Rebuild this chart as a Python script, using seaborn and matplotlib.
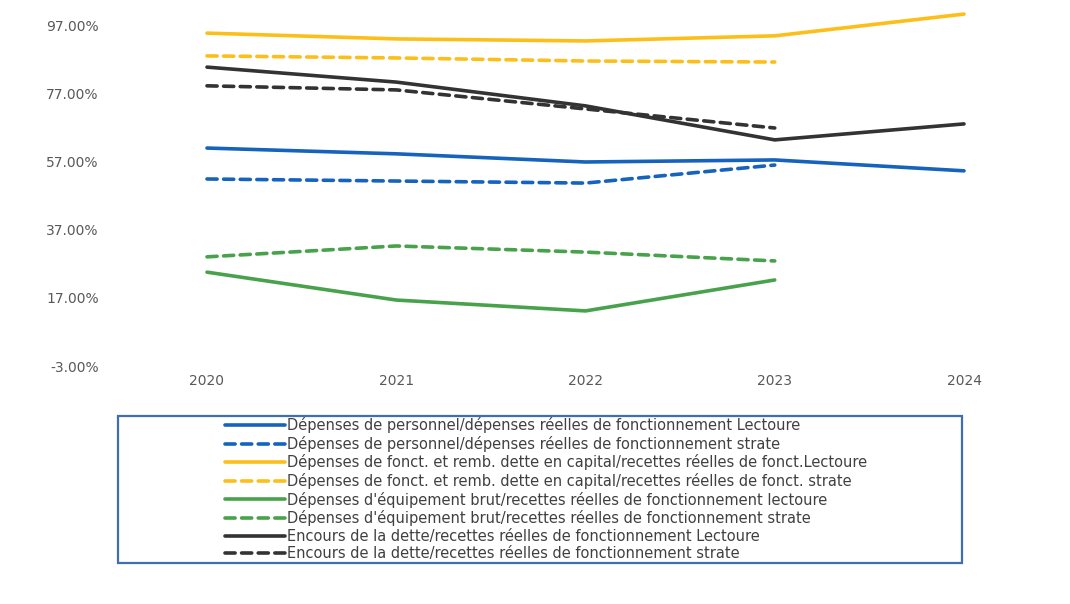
import matplotlib
matplotlib.use("Agg")
import matplotlib.pyplot as plt
import seaborn as sns
import pandas as pd
from matplotlib.patches import Rectangle
from matplotlib.ticker import FuncFormatter

years = ["2020", "2021", "2022", "2023", "2024"]
pers_lectoure = [61.1, 59.4, 57.0, 57.6, 54.4]
pers_strate = [52.0, 51.4, 50.8, 56.1, None]
fonct_lectoure = [94.9, 93.2, 92.6, 94.1, 100.5]
fonct_strate = [88.2, 87.6, 86.7, 86.4, None]
equip_lectoure = [24.6, 16.4, 13.2, 22.3, None]
equip_strate = [29.1, 32.3, 30.5, 27.9, None]
dette_lectoure = [84.9, 80.5, 73.5, 63.5, 68.2]
dette_strate = [79.4, 78.2, 72.6, 67.0, None]

labels = [
    "Dépenses de personnel/dépenses réelles de fonctionnement Lectoure",
    "Dépenses de personnel/dépenses réelles de fonctionnement strate",
    "Dépenses de fonct. et remb. dette en capital/recettes réelles de fonct.Lectoure",
    "Dépenses de fonct. et remb. dette en capital/recettes réelles de fonct. strate",
    "Dépenses d'équipement brut/recettes réelles de fonctionnement lectoure",
    "Dépenses d'équipement brut/recettes réelles de fonctionnement strate",
    "Encours de la dette/recettes réelles de fonctionnement Lectoure",
    "Encours de la dette/recettes réelles de fonctionnement strate",
]
series = [pers_lectoure, pers_strate, fonct_lectoure, fonct_strate,
          equip_lectoure, equip_strate, dette_lectoure, dette_strate]
colors = ["#1663bd", "#1663bd", "#fcbf1a", "#fcbf1a",
          "#48a24c", "#48a24c", "#333333", "#333333"]
dashed = [False, True, False, True, False, True, False, True]
yticks = [-3, 17, 37, 57, 77, 97]

sns.set_style("white")
plt.rcParams['font.family'] = ['DejaVu Sans']

fig = plt.figure(figsize=(10.7, 6.04), dpi=100)
ax = fig.add_axes([207/1070, 1 - 366/604, (964-207)/1070, 356/604])

for vals, lab, col, d in zip(series, labels, colors, dashed):
    df = pd.DataFrame({"x": list(range(len(years))), "y": vals}).dropna()
    ls = (0, (2.8, 1.8)) if d else "-"
    sns.lineplot(data=df, x="x", y="y", ax=ax, color=col, linewidth=2.6,
                 linestyle=ls, label=lab, clip_on=False, legend=False,
                 solid_capstyle="round", dash_capstyle="round")

ax.set_xlim(0, 4)
ax.set_ylim(-3, 101.7)
ax.set_yticks(yticks)
ax.yaxis.set_major_formatter(FuncFormatter(lambda v, p: f"{v:.2f}%"))
ax.set_xticks(range(len(years)))
ax.set_xticklabels(years)
ax.tick_params(axis="both", length=0, labelcolor="#595959")
ax.tick_params(axis="y", pad=78, labelsize=10)
ax.tick_params(axis="x", pad=6, labelsize=10)
ax.set_xlabel("")
ax.set_ylabel("")
for s in ax.spines.values():
    s.set_visible(False)
ax.grid(False)

# legend frame
fig.patches.append(Rectangle((118/1070, 1 - 563/604), (962-118)/1070, (563-416)/604,
                             transform=fig.transFigure, fill=False,
                             edgecolor="#3f6fb0", linewidth=1.6))
handles, labs = ax.get_legend_handles_labels()
leg = fig.legend(handles, labs, loc="upper left",
                 bbox_to_anchor=(225/1070, 1 - 417/604), frameon=False,
                 handlelength=4.1, handletextpad=0.15,
                 labelspacing=0.18, borderaxespad=0, borderpad=0,
                 prop={"family": ["DejaVu Sans"], "size": 10.5})
for t in leg.get_texts():
    t.set_color("#404040")

fig.savefig("out.png", dpi=100, facecolor="white")
